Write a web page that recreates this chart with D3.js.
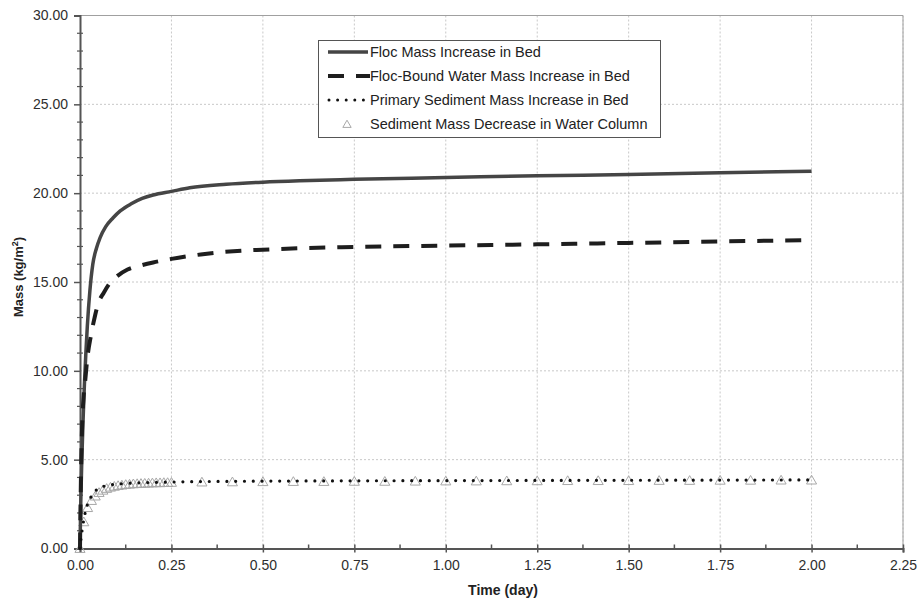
<!DOCTYPE html>
<html><head><meta charset="utf-8">
<script src="https://cdn.jsdelivr.net/npm/d3@7"></script>
<style>
body{margin:0;background:#fff;}
text{font-family:"Liberation Sans",Arial,sans-serif;}
</style></head>
<body><svg id="c" width="917" height="602"></svg>
<script>
// ---- data ----
const xTicks = [0,0.25,0.5,0.75,1.0,1.25,1.5,1.75,2.0,2.25];
const yTicks = [0,5,10,15,20,25,30];
const seriesNames = ["Floc Mass Increase in Bed","Floc-Bound Water Mass Increase in Bed","Primary Sediment Mass Increase in Bed","Sediment Mass Decrease in Water Column"];

const flocT = [0,0.002,0.005,0.008,0.012,0.016,0.02,0.027,0.035,0.045,0.055,0.07,0.09,0.11,0.14,0.17,0.2,0.25,0.3,0.4,0.5,0.6,0.75,1.0,1.25,1.5,1.75,2.0];
const flocM = [0,2.5,5.0,7.0,9.2,11.0,12.5,14.5,16.0,16.9,17.5,18.1,18.6,19.0,19.4,19.7,19.9,20.1,20.3,20.5,20.62,20.7,20.78,20.88,20.98,21.05,21.15,21.24];

const waterT = [0,0.003,0.006,0.01,0.014,0.02,0.03,0.04,0.05,0.065,0.08,0.1,0.13,0.17,0.2,0.25,0.33,0.43,0.5,0.6,0.75,1.0,1.25,1.5,1.75,2.0];
const waterM = [0,4.5,7.0,8.6,9.4,10.7,12.0,13.0,13.8,14.4,14.9,15.3,15.7,15.95,16.1,16.3,16.55,16.75,16.82,16.9,16.97,17.05,17.12,17.2,17.28,17.36];

const primT = [0,0.003,0.007,0.012,0.02,0.03,0.04,0.05,0.065,0.08,0.1,0.13,0.17,0.25,0.5,1.0,1.5,2.0];
const primM = [0,0.6,1.2,1.8,2.45,2.9,3.2,3.38,3.5,3.57,3.62,3.67,3.7,3.74,3.79,3.82,3.84,3.86];

const colT = [0,0.0104,0.0208,0.0313,0.0417,0.0521,0.0625,0.0729,0.0833,0.0938,0.1042,0.1146,0.125,0.1354,0.1458,0.1563,0.1667,0.1771,0.1875,0.1979,0.2083,0.2188,0.2292,0.2396,0.25,
  0.3333,0.4167,0.5,0.5833,0.6667,0.75,0.8333,0.9167,1.0,1.0833,1.1667,1.25,1.3333,1.4167,1.5,1.5833,1.6667,1.75,1.8333,1.9167,2.0];
const colM = [0,1.5,2.3,2.7,2.95,3.15,3.28,3.38,3.45,3.5,3.54,3.57,3.6,3.62,3.64,3.65,3.66,3.67,3.68,3.69,3.7,3.7,3.71,3.71,3.72,
  3.74,3.75,3.76,3.77,3.77,3.78,3.78,3.79,3.8,3.8,3.81,3.81,3.82,3.82,3.82,3.83,3.83,3.84,3.84,3.85,3.85];

// ---- layout ----
const svg = d3.select("#c");
const L=80, R=903, T=15.5, B=548.5;
const x = d3.scaleLinear().domain([0,2.25]).range([L,R]);
const y = d3.scaleLinear().domain([0,30]).range([B,T]);
const fmt = d3.format(".2f");

// grid
const g = svg.append("g");
g.selectAll(".gx").data(xTicks.slice(1)).enter().append("line")
 .attr("x1",d=>x(d)).attr("x2",d=>x(d)).attr("y1",T).attr("y2",B)
 .attr("stroke","#c8c8c8").attr("stroke-width",1).attr("stroke-dasharray","2,2");
g.selectAll(".gy").data(yTicks.slice(1)).enter().append("line")
 .attr("x1",L).attr("x2",R).attr("y1",d=>y(d)).attr("y2",d=>y(d))
 .attr("stroke","#c8c8c8").attr("stroke-width",1).attr("stroke-dasharray","2,2");
// frame top/right
svg.append("line").attr("x1",L).attr("x2",R).attr("y1",T).attr("y2",T).attr("stroke","#a0a0a0");
svg.append("line").attr("x1",R).attr("x2",R).attr("y1",T).attr("y2",B).attr("stroke","#a0a0a0");

// axes
const xAxis = d3.axisBottom(x).tickValues(xTicks).tickFormat(fmt).tickSize(4).tickPadding(8);
const gx = svg.append("g").attr("transform",`translate(0,${B})`).call(xAxis);
const yAxis = d3.axisLeft(y).tickValues(yTicks).tickFormat(fmt).tickSize(6).tickPadding(6);
const gy = svg.append("g").attr("transform",`translate(${L},0)`).call(yAxis);
[gx,gy].forEach(a=>{
  a.select(".domain").attr("stroke","#555").attr("stroke-width",2);
  a.selectAll(".tick line").attr("stroke","#555").attr("stroke-width",1.5);
  a.selectAll(".tick text").attr("fill","#2e2e2e").style("font-size","14px").style("font-family","'Liberation Sans',Arial,sans-serif");
});
gx.selectAll(".tick line").attr("y1",-4);
// minor ticks
const xMinor = d3.range(0.125,2.25,0.25);
svg.append("g").selectAll("line").data(xMinor).enter().append("line")
 .attr("x1",d=>x(d)).attr("x2",d=>x(d)).attr("y1",B-4).attr("y2",B)
 .attr("stroke","#555").attr("stroke-width",1.5);
const yMinor = d3.range(1,30,1).filter(v=>v%5!==0);
svg.append("g").selectAll("line").data(yMinor).enter().append("line")
 .attr("x1",L-3).attr("x2",L+3).attr("y1",d=>y(d)).attr("y2",d=>y(d))
 .attr("stroke","#555").attr("stroke-width",1.2);

// axis titles
svg.append("text").attr("x",503).attr("y",595).attr("text-anchor","middle")
 .style("font-size","14px").style("font-weight","bold").attr("fill","#222").text("Time (day)");
svg.append("text").attr("transform","translate(23,277) rotate(-90)").attr("text-anchor","middle")
 .style("font-size","13px").style("font-weight","bold").attr("fill","#222")
 .html('Mass (kg/m<tspan dy="-5" font-size="9">2</tspan><tspan dy="5">)</tspan>');

const line = d3.line().x(d=>x(d[0])).y(d=>y(d[1])).curve(d3.curveMonotoneX);
const zip = (a,b)=>a.map((v,i)=>[v,b[i]]);

// triangles
const tri = d3.symbol().type(d3.symbolTriangle).size(44);
svg.append("g").selectAll("path").data(zip(colT,colM)).enter().append("path")
 .attr("d",tri).attr("transform",d=>`translate(${x(d[0])},${y(d[1])+1})`)
 .attr("fill","none").attr("stroke","#a8a8a8").attr("stroke-width",1);

svg.append("path").datum(zip(flocT,flocM)).attr("d",line)
 .attr("fill","none").attr("stroke","#454545").attr("stroke-width",3.5);
svg.append("path").datum(zip(waterT,waterM)).attr("d",line)
 .attr("fill","none").attr("stroke","#1e1e1e").attr("stroke-width",4).attr("stroke-dasharray","16,12");
svg.append("path").datum(zip(primT,primM)).attr("d",line)
 .attr("fill","none").attr("stroke","#111").attr("stroke-width",3.2).attr("stroke-linecap","round").attr("stroke-dasharray","0,8.8");

// legend
const lg = svg.append("g");
lg.append("rect").attr("x",318.5).attr("y",40.5).attr("width",342).attr("height",97)
 .attr("fill","#fff").attr("stroke","#555").attr("stroke-width",1);
const rows=[52,76,100,124];
lg.append("line").attr("x1",328).attr("x2",368).attr("y1",rows[0]).attr("y2",rows[0]).attr("stroke","#454545").attr("stroke-width",3.5);
lg.append("line").attr("x1",328).attr("x2",370).attr("y1",rows[1]).attr("y2",rows[1]).attr("stroke","#1e1e1e").attr("stroke-width",4).attr("stroke-dasharray","16,12");
lg.append("line").attr("x1",329).attr("x2",369).attr("y1",rows[2]).attr("y2",rows[2]).attr("stroke","#111").attr("stroke-width",3).attr("stroke-linecap","round").attr("stroke-dasharray","0,8.6");
lg.append("path").attr("d",d3.symbol().type(d3.symbolTriangle).size(30)).attr("transform",`translate(347,${rows[3]+1})`).attr("fill","none").attr("stroke","#a8a8a8");
lg.selectAll("text").data(seriesNames).enter().append("text")
 .attr("x",370).attr("y",(d,i)=>rows[i]+5).style("font-size","14.5px").attr("fill","#222").text(d=>d);
</script></body></html>
